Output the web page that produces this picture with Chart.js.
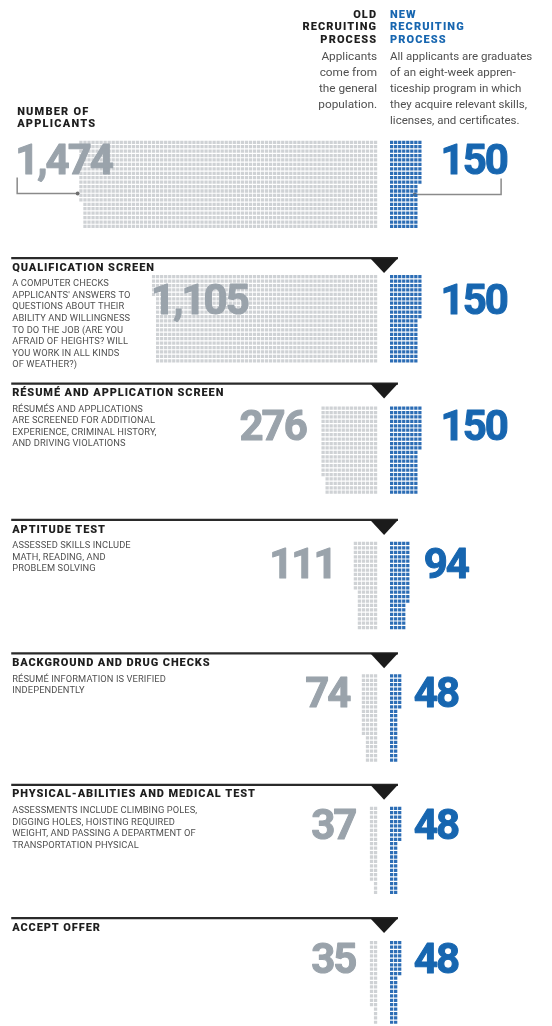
<!DOCTYPE html>
<html>
<head>
<meta charset="utf-8">
<script src="https://cdn.jsdelivr.net/npm/chart.js@4.4.1/dist/chart.umd.min.js"></script>
<style>
html,body{margin:0;padding:0;background:#fff}
canvas{display:block}
</style>
</head>
<body>
<canvas id="funnel" width="552" height="1026"></canvas>
<script>
/* ── data ── */
const STAGES=['NUMBER OF APPLICANTS','QUALIFICATION SCREEN','RÉSUMÉ AND APPLICATION SCREEN','APTITUDE TEST','BACKGROUND AND DRUG CHECKS','PHYSICAL-ABILITIES AND MEDICAL TEST','ACCEPT OFFER'];
const OLD_COUNTS=[1474,1105,276,111,74,37,35];
const NEW_COUNTS=[150,150,150,94,48,48,48];
const STAGE_NOTES=[
  [],
  ['A COMPUTER CHECKS',"APPLICANTS' ANSWERS TO",'QUESTIONS ABOUT THEIR','ABILITY AND WILLINGNESS','TO DO THE JOB (ARE YOU','AFRAID OF HEIGHTS? WILL','YOU WORK IN ALL KINDS','OF WEATHER?)'],
  ['RÉSUMÉS AND APPLICATIONS','ARE SCREENED FOR ADDITIONAL','EXPERIENCE, CRIMINAL HISTORY,','AND DRIVING VIOLATIONS'],
  ['ASSESSED SKILLS INCLUDE','MATH, READING, AND','PROBLEM SOLVING'],
  ['RÉSUMÉ INFORMATION IS VERIFIED','INDEPENDENTLY'],
  ['ASSESSMENTS INCLUDE CLIMBING POLES,','DIGGING HOLES, HOISTING REQUIRED','WEIGHT, AND PASSING A DEPARTMENT OF','TRANSPORTATION PHYSICAL'],
  []
];
const OLD_TITLE=['OLD','RECRUITING','PROCESS'];
const NEW_TITLE=['NEW','RECRUITING','PROCESS'];
const OLD_DESC=['Applicants','come from','the general','population.'];
const NEW_DESC=['All applicants are graduates','of an eight-week appren-','ticeship program in which','they acquire relevant skills,','licenses, and certificates.'];

/* ── layout (pixel units; x/y scales run 0..552 and 0..1026) ── */
const L={
  oldRight:378,newLeft:391,
  dx:4.07,dy:4.45,rows:20,
  gridTop:[139,274,406,542,675,808,943],
  rule:[null,257,383,520,654,786,920],
  numBase:[172,313,440,578,708,840,975],
  oldNum:[{x:13,a:'left'},{x:150,a:'left'},{x:306,a:'right'},{x:336,a:'right'},{x:350,a:'right'},{x:356,a:'right'},{x:356,a:'right'}],
  newNumX:[442,442,442,425,415,415,415]
};
const GREY='#cfd2d5',BLUE='#2c6db5',OLD_NUM='#9aa3ab',NEW_NUM='#1766b0',INK='#1e1e1e',NOTE='#505050';

// one square per applicant, column by column, top to bottom
function unitGrid(count,top,side){
  const pts=[];
  for(let i=0;i<count;i++){
    const col=Math.floor(i/L.rows),row=i%L.rows;
    const x=side<0?L.oldRight-1.6-col*L.dx:L.newLeft+1.6+col*L.dx;
    pts.push({x,y:top+1.6+row*L.dy});
  }
  return pts;
}

const datasets=[];
STAGES.forEach((s,i)=>{
  datasets.push({label:s+' old',data:unitGrid(OLD_COUNTS[i],L.gridTop[i],-1),backgroundColor:GREY});
  datasets.push({label:s+' new',data:unitGrid(NEW_COUNTS[i],L.gridTop[i],1),backgroundColor:BLUE});
});

function txt(ctx,s,x,y,font,color,align,spacing,stroke){
  ctx.font=font;ctx.fillStyle=color;ctx.textAlign=align||'left';
  ctx.letterSpacing=spacing||'0px';
  ctx.fillText(s,x,y);
  if(stroke){ctx.strokeStyle=color;ctx.lineWidth=stroke;ctx.lineJoin='round';ctx.strokeText(s,x,y);}
}

const decor={
  id:'decor',
  beforeDatasetsDraw(chart){
    const {ctx,scales:{x,y}}=chart;
    ctx.save();
    // stage rules with the drop marker
    L.rule.forEach(r=>{
      if(r==null)return;
      const ry=y.getPixelForValue(r);
      ctx.strokeStyle='#2a2a2a';ctx.lineWidth=2.2;
      ctx.beginPath();ctx.moveTo(x.getPixelForValue(9),ry);ctx.lineTo(x.getPixelForValue(399),ry);ctx.stroke();
      ctx.fillStyle='#1b1b1b';
      ctx.beginPath();ctx.moveTo(x.getPixelForValue(371),ry);ctx.lineTo(x.getPixelForValue(399),ry);
      ctx.lineTo(x.getPixelForValue(385),y.getPixelForValue(r+15));ctx.closePath();ctx.fill();
    });
    // brackets tying the first totals to their grids
    ctx.strokeStyle='#8a8a8a';ctx.fillStyle='#6f6f6f';ctx.lineWidth=1.5;
    ctx.beginPath();ctx.moveTo(x.getPixelForValue(15),y.getPixelForValue(176));ctx.lineTo(x.getPixelForValue(15),y.getPixelForValue(192));
    ctx.lineTo(x.getPixelForValue(76),y.getPixelForValue(192));ctx.stroke();
    ctx.beginPath();ctx.arc(x.getPixelForValue(76),y.getPixelForValue(192),2,0,Math.PI*2);ctx.fill();
    ctx.beginPath();ctx.moveTo(x.getPixelForValue(503),y.getPixelForValue(177));ctx.lineTo(x.getPixelForValue(503),y.getPixelForValue(193));
    ctx.lineTo(x.getPixelForValue(416),y.getPixelForValue(193));ctx.stroke();
    ctx.beginPath();ctx.arc(x.getPixelForValue(416),y.getPixelForValue(193),2,0,Math.PI*2);ctx.fill();
    ctx.restore();
  },
  afterDatasetsDraw(chart){
    const {ctx,scales:{x,y}}=chart;
    ctx.save();
    ctx.textBaseline='middle';
    // column titles
    OLD_TITLE.forEach((t,i)=>txt(ctx,t,x.getPixelForValue(L.oldRight),y.getPixelForValue(13+i*12.5),'900 11px Roboto',INK,'right','1.1px'));
    NEW_TITLE.forEach((t,i)=>txt(ctx,t,x.getPixelForValue(L.newLeft),y.getPixelForValue(13+i*12.5),'900 11px Roboto',NEW_NUM,'left','1.1px'));
    OLD_DESC.forEach((t,i)=>txt(ctx,t,x.getPixelForValue(L.oldRight),y.getPixelForValue(55+i*16),'400 11.8px Roboto',NOTE,'right'));
    NEW_DESC.forEach((t,i)=>txt(ctx,t,x.getPixelForValue(L.newLeft),y.getPixelForValue(55+i*16),'400 11.5px Roboto',NOTE,'left'));
    // stage names and notes
    STAGES.forEach((s,i)=>{
      if(i===0){
        txt(ctx,'NUMBER OF',x.getPixelForValue(15),y.getPixelForValue(110),'900 11px Roboto',INK,'left','1.2px');
        txt(ctx,'APPLICANTS',x.getPixelForValue(15),y.getPixelForValue(123),'900 11px Roboto',INK,'left','1.2px');
        return;
      }
      const r=L.rule[i];
      txt(ctx,s,x.getPixelForValue(10),y.getPixelForValue(r+10),'900 11px Roboto',INK,'left','0.9px');
      STAGE_NOTES[i].forEach((n,k)=>txt(ctx,n,x.getPixelForValue(10),y.getPixelForValue(r+26+k*11.6),'400 9.3px Roboto',NOTE,'left','0.1px'));
    });
    // head counts
    ctx.textBaseline='alphabetic';
    OLD_COUNTS.forEach((v,i)=>{
      const p=L.oldNum[i];
      txt(ctx,v.toLocaleString('en-US'),x.getPixelForValue(p.x),y.getPixelForValue(L.numBase[i]),'700 42px Roboto',OLD_NUM,p.a,'-2px',1);
    });
    NEW_COUNTS.forEach((v,i)=>{
      txt(ctx,v.toLocaleString('en-US'),x.getPixelForValue(L.newNumX[i]),y.getPixelForValue(L.numBase[i]),'700 42px Roboto',NEW_NUM,'left','-2px',1);
    });
    ctx.restore();
  }
};

new Chart(document.getElementById('funnel'),{
  type:'scatter',
  data:{datasets},
  options:{
    responsive:false,animation:false,devicePixelRatio:1,events:[],
    layout:{padding:0},
    elements:{point:{pointStyle:'rect',radius:2.3,borderWidth:0,hoverRadius:2.3}},
    plugins:{legend:{display:false},tooltip:{enabled:false}},
    scales:{
      x:{type:'linear',display:false,min:0,max:552},
      y:{type:'linear',display:false,min:0,max:1026,reverse:true}
    }
  },
  plugins:[decor]
});
</script>
</body>
</html>
